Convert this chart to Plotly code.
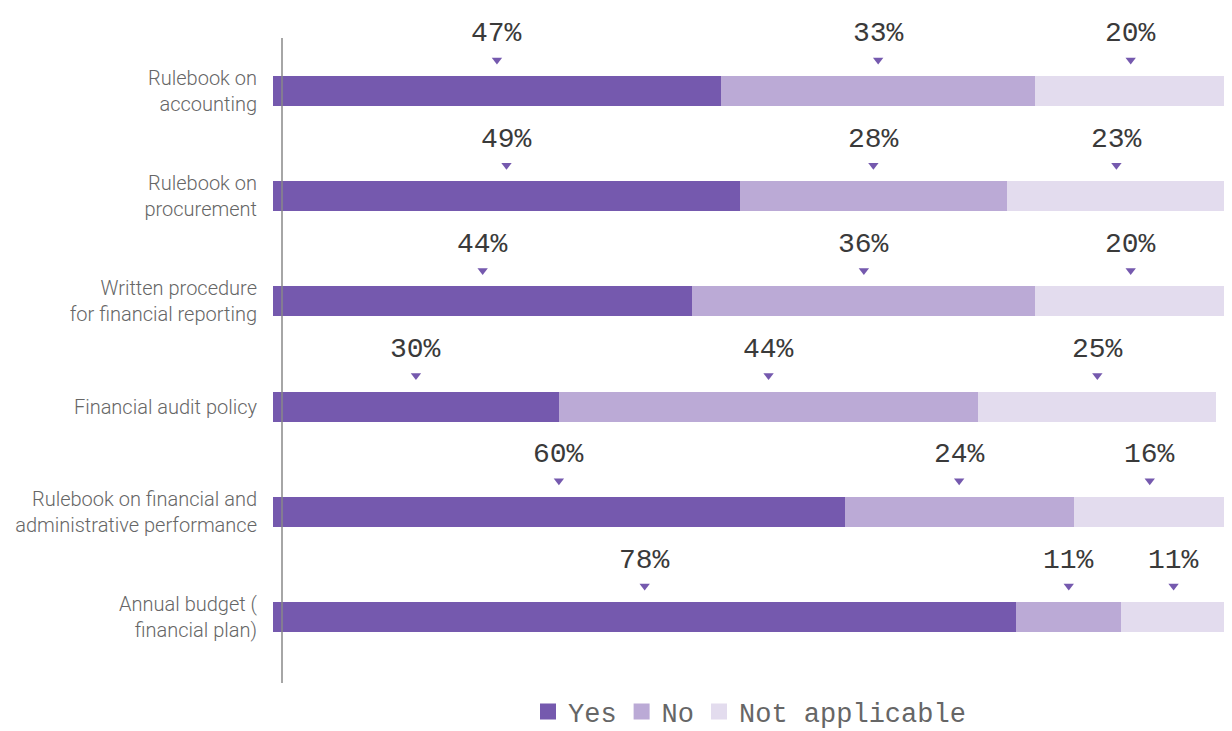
import plotly.graph_objects as go

categories = [
    "Rulebook on<br>accounting",
    "Rulebook on<br>procurement",
    "Written procedure<br>for financial reporting",
    "Financial audit policy",
    "Rulebook on financial and<br>administrative performance",
    "Annual budget (<br>financial plan)",
]
yes_vals = [47, 49, 44, 30, 60, 78]
no_vals = [33, 28, 36, 44, 24, 11]
na_vals = [20, 23, 20, 25, 16, 11]

series = [
    ("Yes", yes_vals, "#7559ae"),
    ("No", no_vals, "#bbaad6"),
    ("Not applicable", na_vals, "#e3dcee"),
]

ypos = list(range(len(categories)))

fig = go.Figure()
for name, vals, color in series:
    fig.add_trace(go.Bar(
        name=name, x=vals, y=ypos, orientation="h", width=0.285,
        marker=dict(color=color, line=dict(width=0)),
        hoverinfo="skip", showlegend=False, legendgroup=name,
    ))
    # legend entry with a larger square swatch
    fig.add_trace(go.Scatter(
        name=name, x=[None], y=[None], mode="markers", legendgroup=name,
        marker=dict(symbol="square", size=18, color=color),
        hoverinfo="skip",
    ))

# labels and triangle markers at segment centers
tri_x, tri_y = [], []
annotations = []
for i in ypos:
    start = 0
    for name, vals, color in series:
        v = vals[i]
        cx = start + v / 2
        start += v
        tri_x.append(cx)
        tri_y.append(i - 0.295)
        annotations.append(dict(
            x=cx, y=i - 0.295, xref="x", yref="y", text=f"{v}%", showarrow=False,
            yshift=26,
            font=dict(family="Liberation Mono", size=28, color="#3a3a3a"),
            xanchor="center", yanchor="middle",
        ))

fig.add_trace(go.Scatter(
    x=tri_x, y=tri_y, mode="markers", showlegend=False, cliponaxis=False,
    marker=dict(symbol="triangle-down", size=9, color="#7559ae"),
    hoverinfo="skip",
))

fig.update_layout(
    barmode="stack",
    width=1232, height=731,
    margin=dict(l=265, r=14, t=30, b=56, autoexpand=False),
    paper_bgcolor="white", plot_bgcolor="white",
    annotations=annotations,
    showlegend=True,
    legend=dict(
        orientation="h", x=0.5, xanchor="center", y=-0.045, yanchor="middle",
        font=dict(family="Liberation Mono", size=27, color="#666666"),
        traceorder="normal", itemwidth=30, itemsizing="trace",
    ),
    xaxis=dict(range=[0, 100], showgrid=False, zeroline=False, automargin=False,
               showticklabels=False, showline=False, fixedrange=True),
    yaxis=dict(range=[5.627, -0.504], tickmode="array", tickvals=ypos,
               ticktext=categories, showgrid=False, zeroline=False, automargin=False,
               showline=False, ticks="outside", ticklen=11,
               tickcolor="rgba(0,0,0,0)",
               tickfont=dict(family="Roboto", size=20, color="#666666", weight=300)),
    shapes=[dict(type="line", xref="paper", yref="paper",
                 x0=9/953, x1=9/953, y0=0, y1=1,
                 line=dict(color="#888888", width=1.5))],
)

fig.write_html("out.html")
